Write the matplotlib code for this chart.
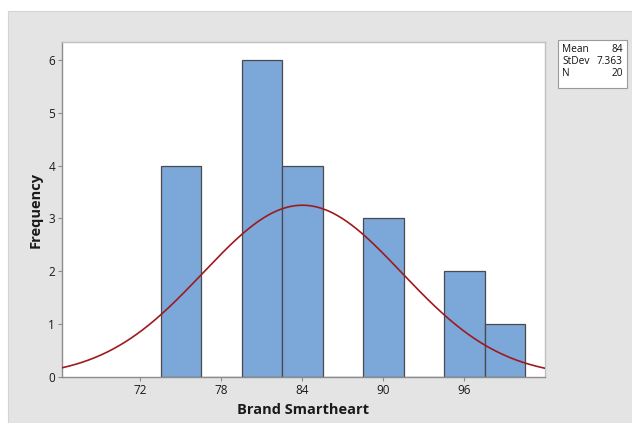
import numpy as np
import matplotlib.pyplot as plt
from matplotlib.patches import Rectangle

# Histogram data: bin edges and counts
bin_edges = [73.5, 76.5, 79.5, 82.5, 85.5, 88.5, 91.5, 94.5, 97.5, 100.5]
counts = [4, 0, 6, 4, 0, 3, 0, 2, 1]
mean = 84
stdev = 7.363
n = 20
x_ticks = [72, 78, 84, 90, 96]
y_ticks = [0, 1, 2, 3, 4, 5, 6]

plt.rcParams['font.family'] = ['Open Sans', 'DejaVu Sans']

fig = plt.figure(figsize=(6.32, 4.23), dpi=100)
fig.patch.set_facecolor('white')

# Gray panel behind the plot
fig.patches.append(Rectangle((8 / 632, 0), 1 - 8 / 632, 1 - 11 / 423,
                             transform=fig.transFigure, facecolor='#e4e4e4',
                             edgecolor='#d4d4d4', linewidth=0.8, zorder=-1))

ax = fig.add_axes([62 / 632, 1 - 377 / 423, (544.5 - 62) / 632, (377 - 42) / 423])
ax.set_zorder(2)
ax.set_facecolor('white')

xmin, xmax = 66.19, 101.93

widths = np.diff(bin_edges)
lefts = np.array(bin_edges[:-1])
ax.bar(lefts, counts, width=widths, align='edge', color='#7ba7d9',
       edgecolor='#4a4a4a', linewidth=0.9, zorder=2)

# Fitted normal curve scaled to the histogram
binw = widths[0]
xs = np.linspace(xmin, xmax, 400)
ys = n * binw / (stdev * np.sqrt(2 * np.pi)) * np.exp(-0.5 * ((xs - mean) / stdev) ** 2)
ax.plot(xs, ys, color='#9e1a1f', linewidth=1.2, zorder=3)

ax.set_xlim(xmin, xmax)
ax.set_ylim(0, 6.34)
ax.set_xticks(x_ticks)
ax.set_yticks(y_ticks)
ax.tick_params(axis='both', direction='out', length=3, width=0.8, color='#8c8c8c',
               labelsize=8.5, labelcolor='#1a1a1a', pad=2)

for side in ['top', 'right']:
    ax.spines[side].set_color('#c0c0c0')
    ax.spines[side].set_linewidth(1.0)
for side in ['left', 'bottom']:
    ax.spines[side].set_color('#8c8c8c')
    ax.spines[side].set_linewidth(1.0)

ax.set_xlabel('Brand Smartheart', fontsize=10.5, fontweight='bold', color='#1a1a1a', labelpad=4)
ax.set_ylabel('Frequency', fontsize=10.5, fontweight='bold', color='#1a1a1a', labelpad=4)

# Summary statistics box
bx0, by0, bw, bh = 558 / 632, 1 - 88 / 423, 69 / 632, 48 / 423
fig.patches.append(Rectangle((bx0, by0), bw, bh, transform=fig.transFigure,
                             facecolor='white', edgecolor='#9a9a9a', linewidth=0.8, zorder=1))
stats = [('Mean', '84'), ('StDev', '7.363'), ('N', '20')]
for i, (k, v) in enumerate(stats):
    yy = 1 - (50 + i * 12) / 423
    fig.text(bx0 + 4 / 632, yy, k, fontsize=7.3, color='#111111', va='center', ha='left',
             zorder=3)
    fig.text(bx0 + bw - 4 / 632, yy, v, fontsize=7.3, color='#111111', va='center', ha='right',
             zorder=3)

fig.savefig('out.png', dpi=100, facecolor=fig.get_facecolor())
